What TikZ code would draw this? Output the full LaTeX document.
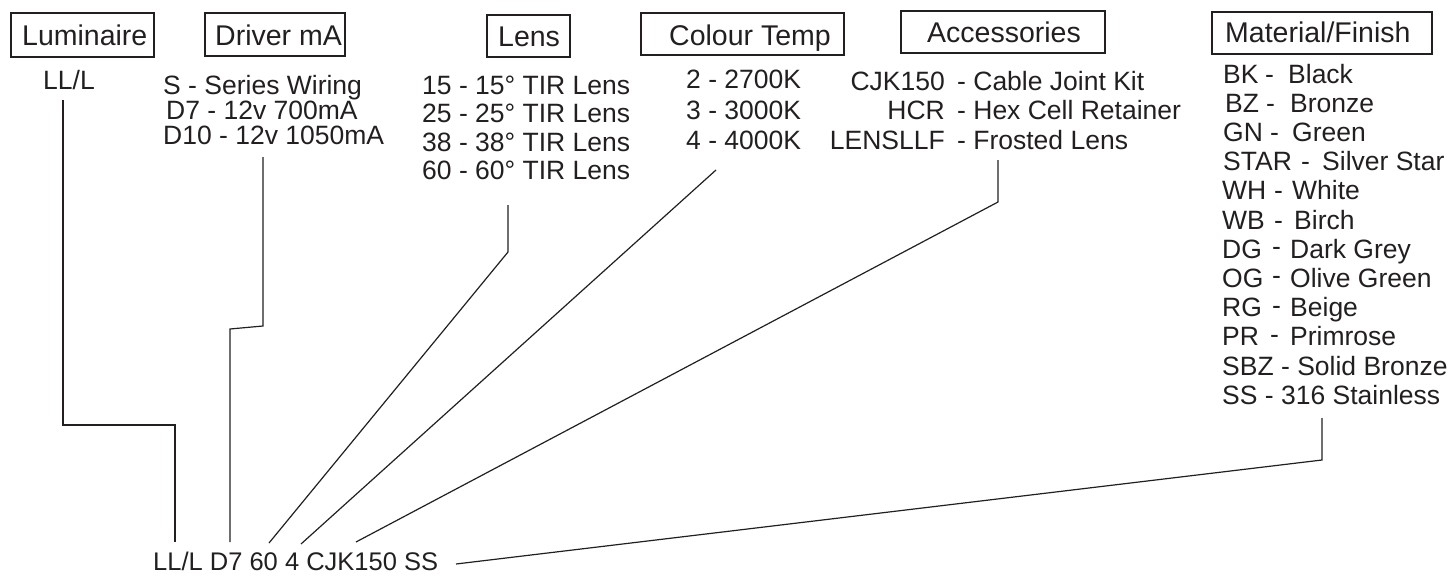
\documentclass[tikz,border=0pt]{standalone}
\usepackage{fontspec}
\setmainfont{Liberation Sans}
\definecolor{ink}{HTML}{231F20}
\newcommand{\mr}[5]{\makebox[\dimexpr #2pt-#1pt\relax][l]{#4}\makebox[\dimexpr #3pt-#2pt\relax][l]{-}#5}
\newcommand{\mrr}[5]{\makebox[\dimexpr #2pt-#1pt\relax][l]{#4}\makebox[\dimexpr #3pt-#2pt\relax][l]{\raisebox{2.5pt}{-}}#5}
\begin{document}
\begin{tikzpicture}[x=1pt,y=-1pt,
  hbox/.style={draw=ink,line width=1.4pt,inner sep=0pt},
  htext/.style={inner sep=0pt,anchor=base west,text=ink,font=\fontsize{28.5}{30}\selectfont},
  item/.style={inner sep=0pt,anchor=base west,text=ink,font=\fontsize{26.5}{28}\selectfont},
  itemr/.style={item,anchor=base east},
  conn/.style={draw=ink,line width=1.2pt}]
\useasboundingbox (0,0) rectangle (1453,576);
% header boxes
\node[hbox,minimum width=143pt,minimum height=44pt] (lumbox) at (82.5,35) {};
\node[htext] (lumt) at (22,45) {Luminaire};
\node[hbox,minimum width=140pt,minimum height=43pt] (drvbox) at (275,34.5) {};
\node[htext] (drvt) at (215,45) {Driver mA};
\node[hbox,minimum width=83pt,minimum height=42pt] (lensbox) at (528.5,36) {};
\node[htext] (lenst) at (498,46) {Lens};
\node[hbox,minimum width=203pt,minimum height=42pt] (ctbox) at (742.5,34) {};
\node[htext] (ctt) at (669,45) {Colour Temp};
\node[hbox,minimum width=204pt,minimum height=42pt] (accbox) at (1003,32) {};
\node[htext] (acct) at (927,42) {Accessories};
\node[hbox,minimum width=220pt,minimum height=42pt] (matbox) at (1322,33) {};
\node[htext] (matt) at (1225,42) {Material/Finish};
% lists
\node[item] (l1) at (43,89) {LL/L};
\node[item] (d1) at (163,94) {S - Series Wiring};
\node[item] (d2) at (166,119) {D7 - 12v 700mA};
\node[item] (d3) at (163,144) {D10 - 12v 1050mA};
\node[item] (n1) at (422,94) {15 - 15° TIR Lens};
\node[item] (n2) at (422,122.5) {25 - 25° TIR Lens};
\node[item] (n3) at (422,151) {38 - 38° TIR Lens};
\node[item] (n4) at (422,179.5) {60 - 60° TIR Lens};
\node[item] (c1) at (686,88.5) {2 - 2700K};
\node[item] (c2) at (686,119) {3 - 3000K};
\node[item] (c3) at (686,149.5) {4 - 4000K};
\node[itemr] (a1c) at (945,90) {CJK150};
\node[item] (a1) at (957,90) {- Cable Joint Kit};
\node[itemr] (a2c) at (945,119.5) {HCR};
\node[item] (a2) at (957,119.5) {- Hex Cell Retainer};
\node[itemr] (a3c) at (945,149) {LENSLLF};
\node[item] (a3) at (957,149) {- Frosted Lens};
\node[item] (m1) at (1223,83) {\mr{1223}{1265}{1288}{BK}{Black}};
\node[item] (m2) at (1225,112.2) {\mr{1225}{1266}{1290}{BZ}{Bronze}};
\node[item] (m3) at (1223,141.4) {\mr{1223}{1270}{1292}{GN}{Green}};
\node[item] (m4) at (1223,170.6) {\mr{1223}{1301}{1322}{STAR}{Silver Star}};
\node[item] (m5) at (1222,199.8) {\mr{1222}{1274}{1292}{WH}{White}};
\node[item] (m6) at (1222,229) {\mr{1222}{1274}{1294}{WB}{Birch}};
\node[item] (m7) at (1222,258.2) {\mrr{1222}{1272}{1290}{DG}{Dark Grey}};
\node[item] (m8) at (1222,287.4) {\mrr{1222}{1272}{1290}{OG}{Olive Green}};
\node[item] (m9) at (1222,316.6) {\mrr{1222}{1272}{1290}{RG}{Beige}};
\node[item] (m10) at (1222,345.8) {\mrr{1222}{1270}{1290}{PR}{Primrose}};
\node[item] (m11) at (1222,375) {SBZ - Solid Bronze};
\node[item] (m12) at (1222,404.2) {SS - 316 Stainless};
% code
\node[inner sep=0pt,anchor=base west,text=ink,font=\fontsize{25.5}{27}\selectfont] (code) at (153,570) {LL/L D7 60 4 CJK150 SS};
% connector points
\coordinate (p1a) at (63,100); \coordinate (p1b) at (63,425); \coordinate (p1c) at (175,425); \coordinate (p1d) at (175,542);
\coordinate (p2a) at (263,157); \coordinate (p2b) at (263,326); \coordinate (p2c) at (230,329); \coordinate (p2d) at (230,542);
\coordinate (p3a) at (508,205); \coordinate (p3b) at (508,252); \coordinate (p3c) at (269,543);
\coordinate (p4a) at (716,170); \coordinate (p4c) at (301,544);
\coordinate (p5a) at (998,160); \coordinate (p5b) at (998,202); \coordinate (p5c) at (356,542);
\coordinate (p6a) at (1322,418); \coordinate (p6b) at (1322,460); \coordinate (p6c) at (456,564);
\draw[conn] (p1a) -- (p1b) -- (p1c) -- (p1d);
\draw[conn] (p2a) -- (p2b) -- (p2c) -- (p2d);
\draw[conn] (p3a) -- (p3b) -- (p3c);
\draw[conn] (p4a) -- (p4c);
\draw[conn] (p5a) -- (p5b) -- (p5c);
\draw[conn] (p6a) -- (p6b) -- (p6c);
\end{tikzpicture}
\end{document}
